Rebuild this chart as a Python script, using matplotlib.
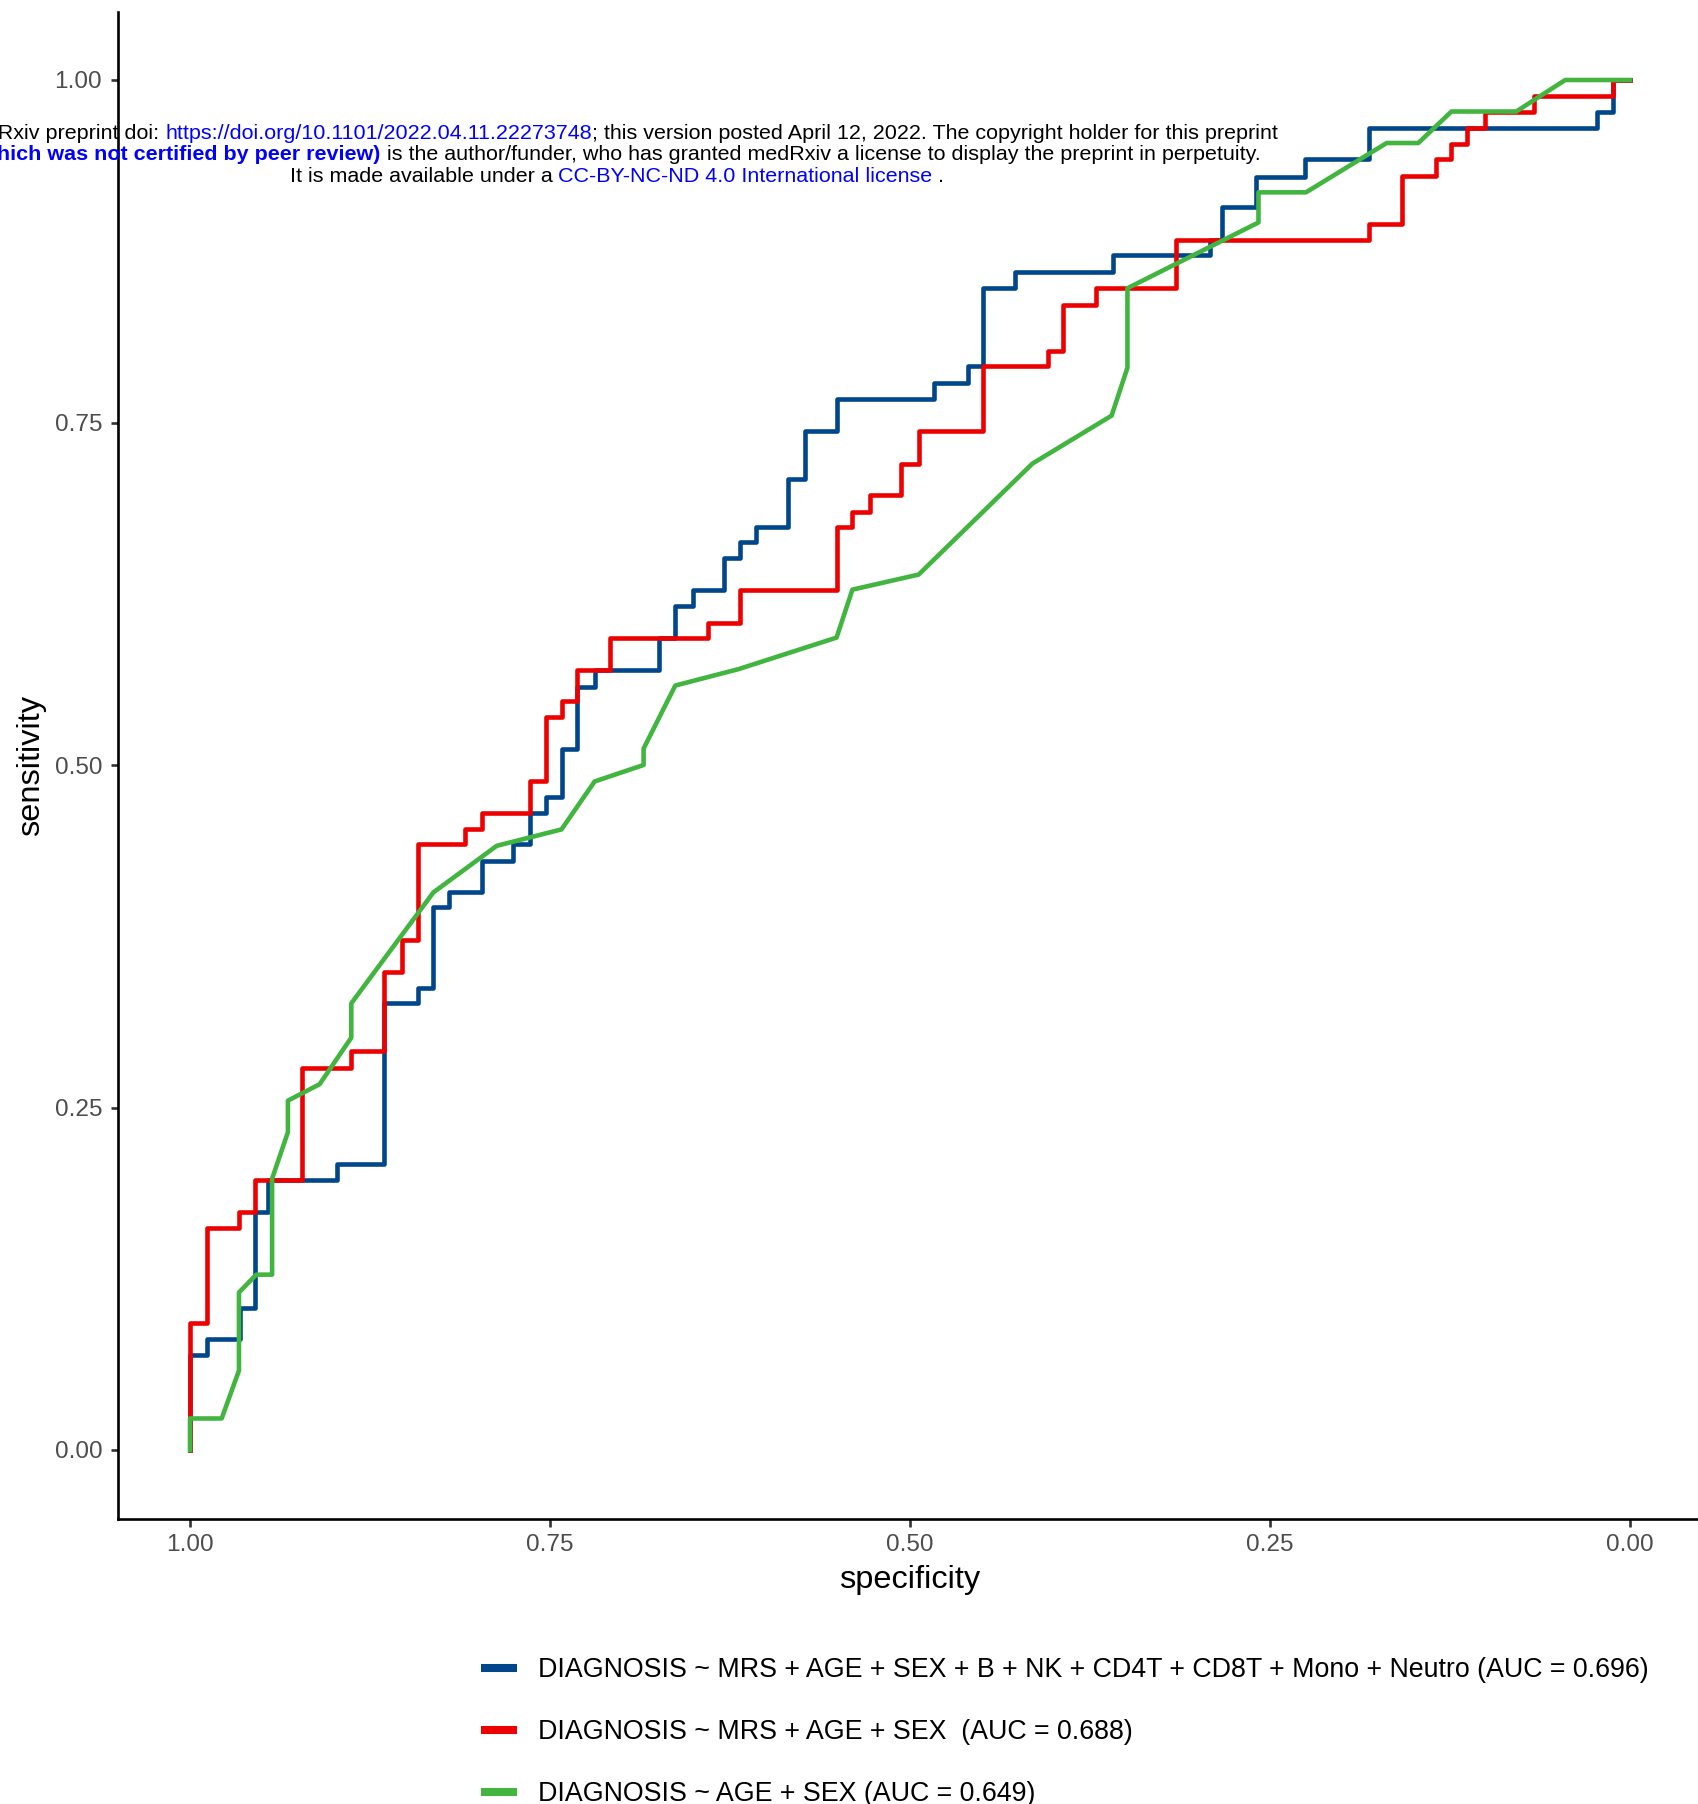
import matplotlib
matplotlib.use("Agg")
import matplotlib.pyplot as plt
from matplotlib.lines import Line2D

plt.rcParams['font.family'] = ['Liberation Sans', 'DejaVu Sans']

# ROC curves (specificity, sensitivity)
# blue and red are staircase curves (one point per step)
blue_spec = [1.000, 0.988, 0.965, 0.955, 0.946, 0.898, 0.865, 0.842, 0.831, 0.820,
             0.797, 0.776, 0.764, 0.753, 0.742, 0.731, 0.719, 0.674, 0.663, 0.651,
             0.629, 0.618, 0.607, 0.585, 0.573, 0.551, 0.483, 0.460, 0.449, 0.427,
             0.359, 0.292, 0.283, 0.260, 0.226, 0.181, 0.023, 0.012, 0.000]
blue_sens = [0.000, 0.069, 0.081, 0.104, 0.174, 0.197, 0.209, 0.326, 0.337, 0.396,
             0.407, 0.430, 0.442, 0.465, 0.477, 0.512, 0.557, 0.569, 0.593, 0.616,
             0.628, 0.651, 0.663, 0.674, 0.709, 0.744, 0.767, 0.779, 0.791, 0.848,
             0.860, 0.872, 0.883, 0.907, 0.929, 0.942, 0.965, 0.977, 1.000]

red_spec = [1.000, 0.988, 0.966, 0.955, 0.922, 0.888, 0.865, 0.853, 0.842, 0.809,
            0.797, 0.764, 0.753, 0.742, 0.731, 0.708, 0.640, 0.618, 0.551, 0.540,
            0.528, 0.506, 0.494, 0.449, 0.404, 0.394, 0.371, 0.315, 0.181, 0.158,
            0.135, 0.124, 0.113, 0.101, 0.067, 0.012, 0.000]
red_sens = [0.000, 0.093, 0.162, 0.174, 0.197, 0.279, 0.291, 0.349, 0.372, 0.442,
            0.453, 0.465, 0.488, 0.535, 0.547, 0.569, 0.593, 0.604, 0.628, 0.674,
            0.685, 0.697, 0.720, 0.744, 0.791, 0.802, 0.836, 0.848, 0.883, 0.895,
            0.930, 0.942, 0.953, 0.965, 0.977, 0.988, 1.000]

# green has ties, so every vertex is listed
green_spec = [1.000, 1.000, 0.978, 0.966, 0.966, 0.954, 0.943, 0.943, 0.932, 0.932,
              0.910, 0.888, 0.888, 0.831, 0.787, 0.742, 0.719, 0.685, 0.685, 0.663,
              0.619, 0.551, 0.540, 0.494, 0.415, 0.360, 0.349, 0.349, 0.258, 0.258,
              0.225, 0.169, 0.147, 0.124, 0.079, 0.045, 0.000]
green_sens = [0.000, 0.023, 0.023, 0.058, 0.115, 0.128, 0.128, 0.198, 0.232, 0.255,
              0.267, 0.301, 0.326, 0.407, 0.441, 0.453, 0.488, 0.500, 0.512, 0.558,
              0.570, 0.593, 0.628, 0.639, 0.720, 0.755, 0.790, 0.848, 0.896, 0.918,
              0.918, 0.954, 0.954, 0.977, 0.977, 1.000, 1.000]

labels = ["DIAGNOSIS ~ MRS + AGE + SEX + B + NK + CD4T + CD8T + Mono + Neutro (AUC = 0.696)",
          "DIAGNOSIS ~ MRS + AGE + SEX  (AUC = 0.688)",
          "DIAGNOSIS ~ AGE + SEX (AUC = 0.649)"]
colors = ["#00468B", "#ED0000", "#42B540"]

ticks = [1.00, 0.75, 0.50, 0.25, 0.00]
tick_labels = ["1.00", "0.75", "0.50", "0.25", "0.00"]

W, H = 1698, 1804
fig = plt.figure(figsize=(W / 100, H / 100), dpi=100)
ax = fig.add_axes([118 / W, (H - 1518.5) / H, (1702 - 118) / W, (1518.5 - 11.5) / H])

lw = 3.3
ax.plot(blue_spec, blue_sens, drawstyle="steps-pre", color=colors[0], lw=lw,
        solid_joinstyle="round")
ax.plot(red_spec, red_sens, drawstyle="steps-pre", color=colors[1], lw=lw,
        solid_joinstyle="round")
ax.plot(green_spec, green_sens, color=colors[2], lw=lw, solid_joinstyle="round")

ax.set_xlim(1.05, -0.05)
ax.set_ylim(-0.05, 1.05)
ax.set_xticks(ticks)
ax.set_xticklabels(tick_labels)
ax.set_yticks(ticks)
ax.set_yticklabels(tick_labels)

for s in ["top", "right"]:
    ax.spines[s].set_visible(False)
for s in ["left", "bottom"]:
    ax.spines[s].set_linewidth(1.9)
    ax.spines[s].set_color("black")
ax.tick_params(length=5.4, width=1.9, color="#333333", labelcolor="#4D4D4D",
               labelsize=17.6, pad=6)

ax.set_xlabel("specificity", fontsize=23.4, labelpad=6.5)
ax.set_ylabel("sensitivity", fontsize=23.4, labelpad=6)

# legend below the plot
leg_y = [1668, 1730, 1792]
for lab, col, y in zip(labels, colors, leg_y):
    fig.add_artist(Line2D([481 / W, 517 / W], [1 - y / H, 1 - y / H],
                          transform=fig.transFigure, color=col, lw=5.8,
                          solid_capstyle="butt"))
    fig.text(538 / W, 1 - (y - 1) / H, lab, fontsize=19.3, va="center_baseline",
             ha="left")

# medRxiv watermark lines (mixed colours, centred)
header = [
    (133.5, [("medRxiv preprint doi: ", "black", "normal"),
             ("https://doi.org/10.1101/2022.04.11.22273748", "blue", "normal"),
             ("; this version posted April 12, 2022. The copyright holder for this preprint",
              "black", "normal")]),
    (154.5, [("(which was not certified by peer review)", "blue", "bold"),
             (" is the author/funder, who has granted medRxiv a license to display the preprint in perpetuity.",
              "black", "normal")]),
    (176, [("It is made available under a ", "black", "normal"),
           ("CC-BY-NC-ND 4.0 International license", "blue", "normal"),
           (" .", "black", "normal")]),
]
hsize = 15.45
r = fig.canvas.get_renderer()


def piece_width(s, weight):
    t1 = fig.text(0, 0, "|" + s + "|", fontsize=hsize, fontweight=weight)
    t2 = fig.text(0, 0, "||", fontsize=hsize, fontweight=weight)
    w = t1.get_window_extent(r).width - t2.get_window_extent(r).width
    t1.remove()
    t2.remove()
    return w


center = 617
for y, pieces in header:
    widths = [piece_width(s, wt) for s, c, wt in pieces]
    x = center - sum(widths) / 2
    for (s, c, wt), w in zip(pieces, widths):
        lead = len(s) - len(s.lstrip(" "))
        xs = x + (piece_width(" " * lead, wt) if lead else 0)
        fig.text(xs / W, 1 - y / H, s.lstrip(" "), color=c, fontsize=hsize,
                 fontweight=wt, va="center", ha="left")
        x += w

fig.savefig("out.png", dpi=100)
